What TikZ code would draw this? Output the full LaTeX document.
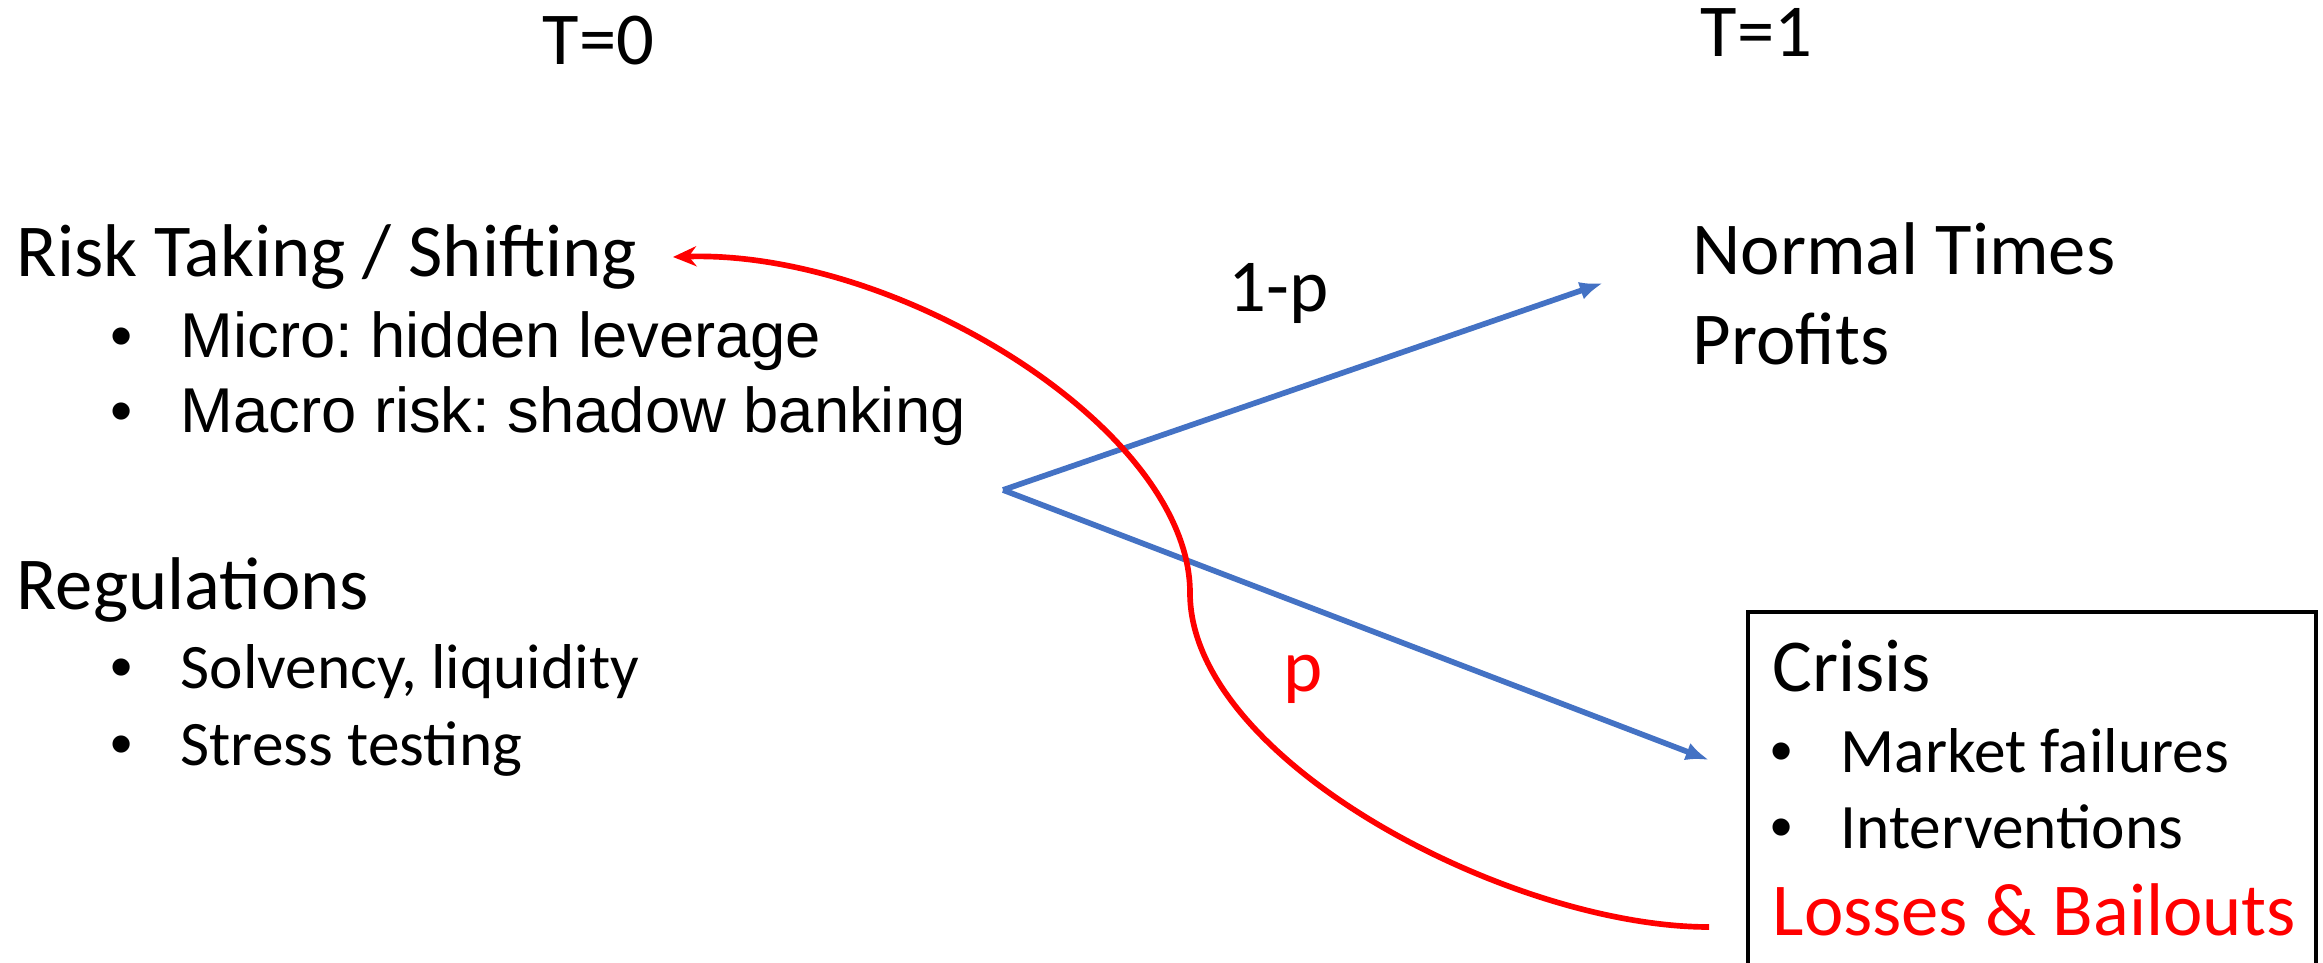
\documentclass[tikz,border=0pt]{standalone}
\usepackage{fontspec}
\setmainfont{Carlito}
\newfontfamily\arialfont{Liberation Sans}
\usetikzlibrary{arrows.meta}
\definecolor{branchblue}{HTML}{4472C4}
\newcommand{\bitem}[2][21pt]{\makebox[#1][l]{\arialfont\textbullet}#2}
\frenchspacing

\begin{document}
\begin{tikzpicture}[x=0.3pt, y=-0.3pt,
  txt/.style={anchor=base west, inner sep=0pt, font=\fontsize{22.4}{27}\selectfont},
  sub/.style={anchor=base west, inner sep=0pt, font=\fontsize{19}{23}\selectfont},
  subarial/.style={anchor=base west, inner sep=0pt, font=\arialfont\fontsize{19}{23}\selectfont},
  branch/.style={-{Latex[length=7pt, width=5.5pt]}, branchblue, line width=1.7pt},
  bailout/.style={-{Stealth[length=7pt, width=6pt]}, red, line width=1.7pt}]
\useasboundingbox (0,0) rectangle (2323,963);

% time labels
\node[txt] (t0) at (542,65) {T=0};
\node[txt] (t1) at (1700,57) {T=1};

% left column
\node[txt] (risk) at (16,277) {Risk Taking / Shifting};
\node[subarial] (micro) at (110,358) {\bitem{Micro: hidden leverage}};
\node[subarial] (macro) at (110,433) {\bitem{Macro risk: shadow banking}};
\node[txt] (regs) at (16,610) {Regulations};
\node[sub] (solv) at (110,688) {\bitem{Solvency, liquidity}};
\node[sub] (stress) at (110,765) {\bitem{Stress testing}};

% right column
\node[txt] (normal) at (1692,275) {Normal Times};
\node[txt] (profits) at (1692,365) {Profits};
\draw[line width=1.2pt] (1748,963) -- (1748,612) -- (2316,612) -- (2316,963);
\node[txt] (crisis) at (1772,692) {Crisis};
\node[sub] (mkt) at (1770,772) {\bitem{Market failures}};
\node[sub] (interv) at (1770,848) {\bitem{Interventions}};
\node[txt, text=red] (losses) at (1772,935) {Losses \& Bailouts};

% probabilities
\node[txt] (oneminus) at (1228,312) {1-p};
\node[txt, text=red] (prob) at (1283,692) {p};

% branches
\coordinate (fork) at (1003,490);
\coordinate (uptip) at (1603,283);
\coordinate (downtip) at (1709,760);
\draw[branch] (fork) -- (uptip);
\draw[branch] (fork) -- (downtip);

% feedback from losses to risk taking
\coordinate (lossend) at (1709,927);
\coordinate (turn) at (1190,593);
\coordinate (risktip) at (673,257);
\draw[bailout] (lossend) .. controls (1510,927) and (1190,760) .. (turn)
  .. controls (1190,430) and (900,250) .. (risktip);
\end{tikzpicture}
\end{document}
